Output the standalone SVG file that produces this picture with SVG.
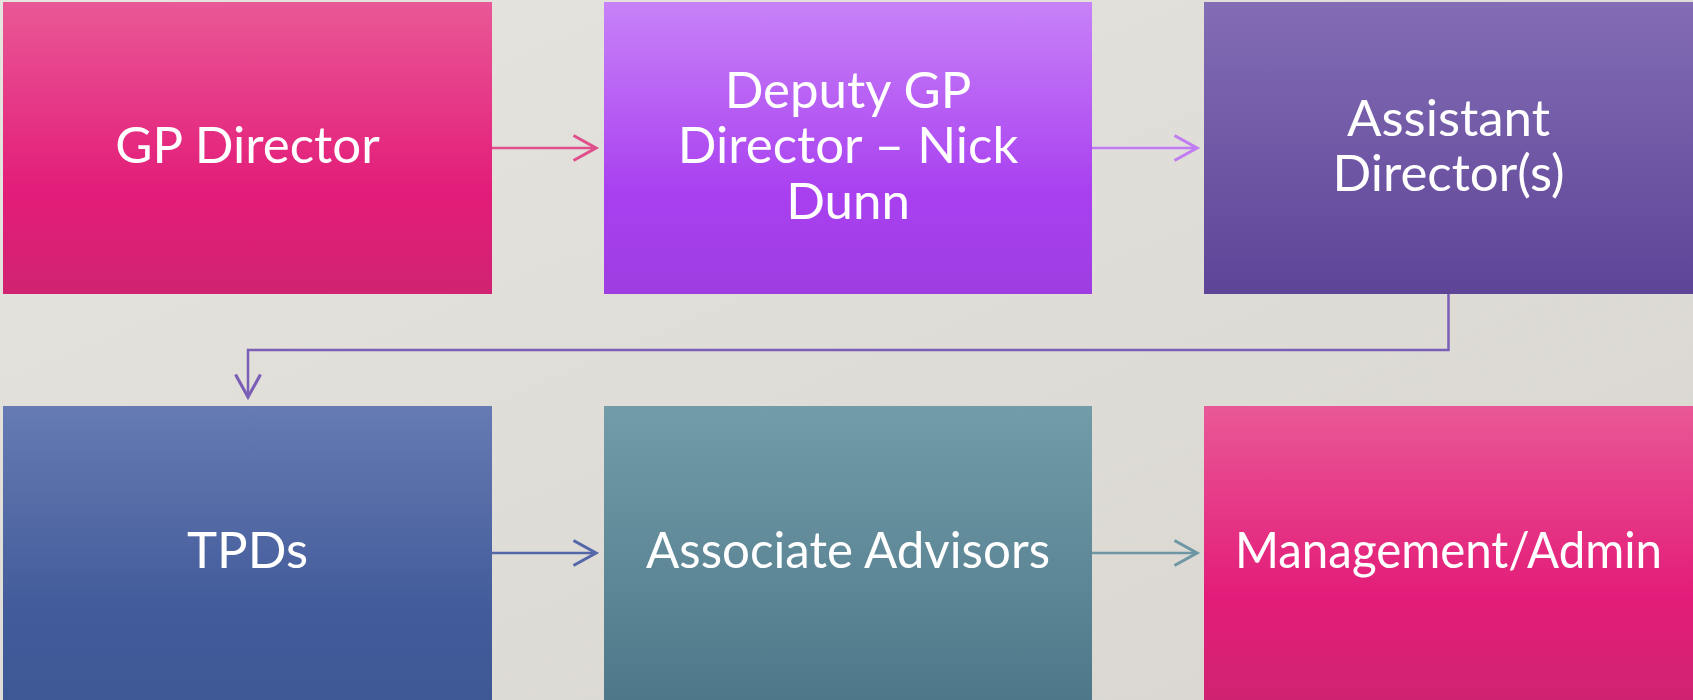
<svg xmlns="http://www.w3.org/2000/svg" width="1693" height="700" viewBox="0 0 1693 700">
<style>
.lbl{font-family:Lato,"Open Sans","Liberation Sans",sans-serif;font-size:51px;fill:#ffffff;text-anchor:middle}
.conn{fill:none;stroke-width:2.5}
</style>
<defs>
<linearGradient id="bg" x1="0" y1="0" x2="1" y2="1"><stop offset="0" stop-color="#E6E4DF"/><stop offset="1" stop-color="#D9D6D0"/></linearGradient>
<linearGradient id="gPink" x1="0" y1="0" x2="0" y2="1"><stop offset="0" stop-color="#E95896"/><stop offset="0.65" stop-color="#E31C79"/><stop offset="1" stop-color="#D02372"/></linearGradient>
<linearGradient id="gViolet" x1="0" y1="0" x2="0" y2="1"><stop offset="0" stop-color="#C882F8"/><stop offset="0.65" stop-color="#A940F0"/><stop offset="1" stop-color="#9E3DE2"/></linearGradient>
<linearGradient id="gPurple" x1="0" y1="0" x2="0" y2="1"><stop offset="0" stop-color="#836DB5"/><stop offset="1" stop-color="#5E4497"/></linearGradient>
<linearGradient id="gBlue" x1="0" y1="0" x2="0" y2="1"><stop offset="0" stop-color="#667BB3"/><stop offset="0.7" stop-color="#425B9A"/><stop offset="1" stop-color="#3E5795"/></linearGradient>
<linearGradient id="gTeal" x1="0" y1="0" x2="0" y2="1"><stop offset="0" stop-color="#739CA9"/><stop offset="1" stop-color="#4E7889"/></linearGradient>
<marker id="aPink" markerUnits="userSpaceOnUse" markerWidth="30" markerHeight="30" viewBox="-20 -12 22 24" refX="0" refY="0" orient="auto"><path d="M-18,-10 L0,0 L-18,10" fill="none" stroke="#DF4F8C" stroke-width="2.5"/></marker>
<marker id="aViolet" markerUnits="userSpaceOnUse" markerWidth="30" markerHeight="30" viewBox="-20 -12 22 24" refX="0" refY="0" orient="auto"><path d="M-18,-10 L0,0 L-18,10" fill="none" stroke="#C07CF3" stroke-width="2.5"/></marker>
<marker id="aPurple" markerUnits="userSpaceOnUse" markerWidth="30" markerHeight="30" viewBox="-20 -12 22 24" refX="0" refY="0" orient="auto"><path d="M-18,-10 L0,0 L-18,10" fill="none" stroke="#7B5EB5" stroke-width="2.5"/></marker>
<marker id="aBlue" markerUnits="userSpaceOnUse" markerWidth="30" markerHeight="30" viewBox="-20 -12 22 24" refX="0" refY="0" orient="auto"><path d="M-18,-10 L0,0 L-18,10" fill="none" stroke="#5467A9" stroke-width="2.5"/></marker>
<marker id="aTeal" markerUnits="userSpaceOnUse" markerWidth="30" markerHeight="30" viewBox="-20 -12 22 24" refX="0" refY="0" orient="auto"><path d="M-18,-10 L0,0 L-18,10" fill="none" stroke="#6F96A3" stroke-width="2.5"/></marker>
</defs>
<rect x="0" y="0" width="1693" height="700" fill="url(#bg)"/>

<g id="connectors">
<path class="conn" d="M492,148 H596" stroke="#DF4F8C" marker-end="url(#aPink)"/>
<path class="conn" d="M1092,148 H1197" stroke="#C07CF3" marker-end="url(#aViolet)"/>
<path class="conn" d="M1448.5,294 V350 H248 V397" stroke="#7B5EB5" marker-end="url(#aPurple)"/>
<path class="conn" d="M492,553 H596" stroke="#5467A9" marker-end="url(#aBlue)"/>
<path class="conn" d="M1092,553 H1197" stroke="#6F96A3" marker-end="url(#aTeal)"/>
</g>

<g id="node-gp-director">
<rect x="3" y="2" width="489" height="292" fill="url(#gPink)"/>
<text class="lbl" x="247.5" y="163">GP Director</text>
</g>
<g id="node-deputy">
<rect x="604" y="2" width="488" height="292" fill="url(#gViolet)"/>
<text class="lbl" x="848" y="108">Deputy GP</text>
<text class="lbl" x="848" y="163">Director – Nick</text>
<text class="lbl" x="848" y="219">Dunn</text>
</g>
<g id="node-assistant">
<rect x="1204" y="2" width="489" height="292" fill="url(#gPurple)"/>
<text class="lbl" x="1448.5" y="136">Assistant</text>
<text class="lbl" x="1448.5" y="191">Director(s)</text>
</g>
<g id="node-tpds">
<rect x="3" y="406" width="489" height="294" fill="url(#gBlue)"/>
<text class="lbl" x="247.5" y="568">TPDs</text>
</g>
<g id="node-associate">
<rect x="604" y="406" width="488" height="294" fill="url(#gTeal)"/>
<text class="lbl" x="848" y="568" textLength="404" lengthAdjust="spacingAndGlyphs">Associate Advisors</text>
</g>
<g id="node-management">
<rect x="1204" y="406" width="489" height="294" fill="url(#gPink)"/>
<text class="lbl" x="1448.5" y="568" textLength="427" lengthAdjust="spacingAndGlyphs">Management/Admin</text>
</g>
</svg>
